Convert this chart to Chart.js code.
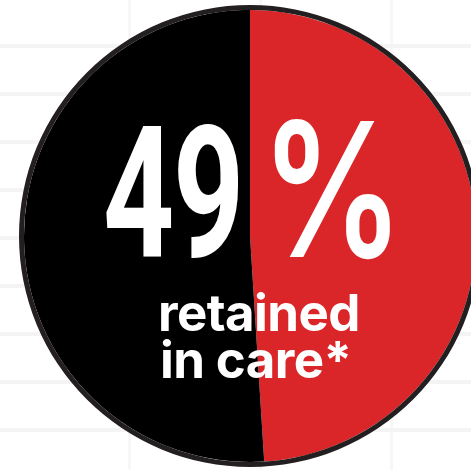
<!DOCTYPE html>
<html>
<head>
<meta charset="utf-8">
<script src="https://cdn.jsdelivr.net/npm/chart.js@4.4.1/dist/chart.umd.min.js"></script>
<style>
  html, body { margin: 0; padding: 0; width: 471px; height: 470px; overflow: hidden; }
  body {
    position: relative;
    background-color: #ffffff;
    background-image:
      repeating-linear-gradient(180deg, transparent 0 44px, #f4f4f4 44px 48px),
      repeating-linear-gradient(90deg, transparent 0 128px, #f7f7f7 128px 131px);
  }
  #pie { position: absolute; left: 0; top: 0; }
  .lbl { position: absolute; color: #fff; white-space: nowrap; line-height: 1; }
  #big { left: 103px; top: 103px; font-family: Roboto, sans-serif; font-weight: 700; font-size: 183px;
         transform: scaleX(0.68); transform-origin: left top; letter-spacing: -2px; }
  #pct { left: 261px; top: 96px; font-family: Inter, sans-serif; font-weight: 600; font-size: 187px;
         transform: scaleX(0.76); transform-origin: left top; }
  #l1 { left: 158px; top: 287px; font-family: Inter, sans-serif; font-weight: 700; font-size: 51px; letter-spacing: -0.6px; }
  #l2 { left: 160px; top: 334px; font-family: Inter, sans-serif; font-weight: 700; font-size: 51px; letter-spacing: -0.6px; }
</style>
</head>
<body>
<canvas id="pie" width="500" height="470"></canvas>
<div class="lbl" id="big">49</div>
<div class="lbl" id="pct">%</div>
<div class="lbl" id="l1">retained</div>
<div class="lbl" id="l2">in care*</div>
<script>
const labels = ['Retained in care', 'Not retained in care'];
const shares = [49, 51];
const sliceColors = ['#da2628', '#000000'];

const ctx = document.getElementById('pie').getContext('2d');
const pie = new Chart(ctx, {
    type: 'doughnut',
    data: {
        labels: labels,
        datasets: [{
            // thin outline ring round the pie
            data: [100],
            backgroundColor: ['#231f20'],
            borderWidth: 0,
            hoverOffset: 0,
            weight: 5
        }, {
            data: shares,
            backgroundColor: sliceColors,
            borderWidth: 0,
            hoverOffset: 0,
            weight: 226
        }]
    },
    options: {
        responsive: false,
        animation: false,
        cutout: 0,
        rotation: 0,
        layout: { padding: { top: 5, bottom: 3, left: 19, right: 19 } },
        plugins: {
            legend: { display: false },
            tooltip: { enabled: false }
        }
    }
});
</script>
</body>
</html>
